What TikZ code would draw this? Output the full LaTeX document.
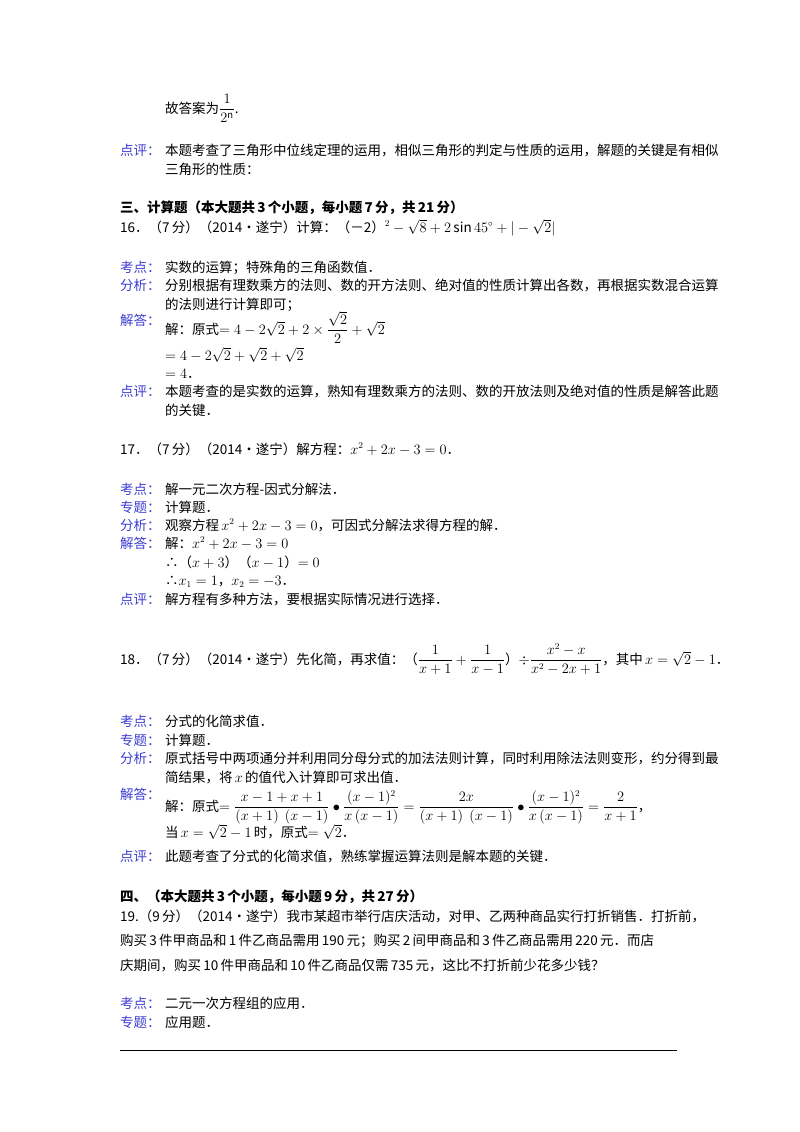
\documentclass[tikz,border=0pt]{standalone}
\usepackage{fontspec}
\usepackage{amsmath}
\setmainfont{Noto Sans CJK SC}
\newfontfamily\rmlat{Liberation Serif}
\definecolor{lab}{RGB}{60,60,210}
\begin{document}
\begin{tikzpicture}[x=1pt,y=-1pt,
 t/.style={anchor=base west,inner sep=0pt,font=\fontsize{13.5}{16}\selectfont},
 lb/.style={t,text=lab},
 hd/.style={t,font=\fontsize{13.5}{16}\selectfont\bfseries}]
\useasboundingbox[fill=white] (0,0) rectangle (800,1132);
\node[t] (a1) at (165,113) {故答案为$\dfrac{1}{2^{\mathrm{n}}}$.};
\node[lb] (l1) at (120,155) {点评：};
\node[t] (b1) at (165,155) {本题考查了三角形中位线定理的运用，相似三角形的判定与性质的运用，解题的关键是有相似};
\node[t] (b2) at (165,174) {三角形的性质：};
\node[hd] (h3) at (120,212) {三、计算题（本大题共\,3\,个小题，每小题\,7\,分，共\,21\,分）};
\node[t] (q16) at (120,232) {16．（7\,分）（2014•遂宁）计算：（－2）$^2-\sqrt{8}+2\sin45^\circ+|-\sqrt{2}|$};
\node[lb] (k1) at (120,272) {考点：};
\node[t] (k1t) at (165,272) {实数的运算；特殊角的三角函数值．};
\node[lb] (f1) at (120,290) {分析：};
\node[t] (f1t) at (165,290) {分别根据有理数乘方的法则、数的开方法则、绝对值的性质计算出各数，再根据实数混合运算};
\node[t] (f1u) at (165,309) {的法则进行计算即可；};
\node[lb] (j1) at (120,325) {解答：};
\node[t] (j1a) at (165,334) {解：原式$=4-2\sqrt{2}+2\times\dfrac{\sqrt{2}}{2}+\sqrt{2}$};
\node[t] (j1b) at (165,360) {$=4-2\sqrt{2}+\sqrt{2}+\sqrt{2}$};
\node[t] (j1c) at (165,378) {$=4$．};
\node[lb] (d1) at (120,396) {点评：};
\node[t] (d1t) at (165,396) {本题考查的是实数的运算，熟知有理数乘方的法则、数的开放法则及绝对值的性质是解答此题};
\node[t] (d1u) at (165,415) {的关键．};
\node[t] (q17) at (120,454) {17．（7\,分）（2014•遂宁）解方程：$x^2+2x-3=0$．};
\node[lb] (k2) at (120,494) {考点：};
\node[t] (k2t) at (165,494) {解一元二次方程-因式分解法．};
\node[lb] (z2) at (120,512) {专题：};
\node[t] (z2t) at (165,512) {计算题．};
\node[lb] (f2) at (120,530) {分析：};
\node[t] (f2t) at (165,530) {观察方程\,$x^2+2x-3=0$，可因式分解法求得方程的解．};
\node[lb] (j2) at (120,548) {解答：};
\node[t] (j2a) at (165,548) {解：$x^2+2x-3=0$};
\node[t] (j2b) at (165,567) {∴（$x+3$）（$x-1$）$=0$};
\node[t] (j2c) at (165,585) {∴$x_1=1$，$x_2=-3$．};
\node[lb] (d2) at (120,604) {点评：};
\node[t] (d2t) at (165,604) {解方程有多种方法，要根据实际情况进行选择．};
\node[t] (q18) at (120,664) {18．（7\,分）（2014•遂宁）先化简，再求值：（$\dfrac{1}{x+1}+\dfrac{1}{x-1}$）$\div\dfrac{x^2-x}{x^2-2x+1}$，其中\,$x=\sqrt{2}-1$．};
\node[lb] (k3) at (120,726) {考点：};
\node[t] (k3t) at (165,726) {分式的化简求值．};
\node[lb] (z3) at (120,745) {专题：};
\node[t] (z3t) at (165,745) {计算题．};
\node[lb] (f3) at (120,763) {分析：};
\node[t] (f3t) at (165,763) {原式括号中两项通分并利用同分母分式的加法法则计算，同时利用除法法则变形，约分得到最};
\node[t] (f3u) at (165,782) {简结果，将\,$x$\,的值代入计算即可求出值．};
\node[lb] (j3) at (120,799) {解答：};
\node[t] (j3a) at (165,811) {解：原式$=\dfrac{x-1+x+1}{(x+1)\ \ (x-1)}\bullet\dfrac{(x-1)^2}{x\,(x-1)}=\dfrac{2x}{(x+1)\ \ (x-1)}\bullet\dfrac{(x-1)^2}{x\,(x-1)}=\dfrac{2}{x+1}$，};
\node[t] (j3b) at (165,837) {当\,$x=\sqrt{2}-1$\,时，原式$=\sqrt{2}$．};
\node[lb] (d3) at (120,861) {点评：};
\node[t] (d3t) at (165,861) {此题考查了分式的化简求值，熟练掌握运算法则是解本题的关键．};
\node[hd] (h4) at (120,901) {四、（本大题共\,3\,个小题，每小题\,9\,分，共\,27\,分）};
\node[t] (q19a) at (120,921) {19.（9\,分）（2014•遂宁）我市某超市举行店庆活动，对甲、乙两种商品实行打折销售．打折前，};
\node[t] (q19b) at (120,945) {购买\,3\,件甲商品和\,1\,件乙商品需用\,190\,元；购买\,2\,间甲商品和\,3\,件乙商品需用\,220\,元．而店};
\node[t] (q19c) at (120,970) {庆期间，购买\,10\,件甲商品和\,10\,件乙商品仅需\,735\,元，这比不打折前少花多少钱？};
\node[lb] (k4) at (120,1008) {考点：};
\node[t] (k4t) at (165,1008) {二元一次方程组的应用．};
\node[lb] (z4) at (120,1027) {专题：};
\node[t] (z4t) at (165,1027) {应用题．};
\coordinate (r1) at (120,1050);
\coordinate (r2) at (677,1050);
\draw[line width=0.8pt] (r1) -- (r2);
\end{tikzpicture}
\end{document}
